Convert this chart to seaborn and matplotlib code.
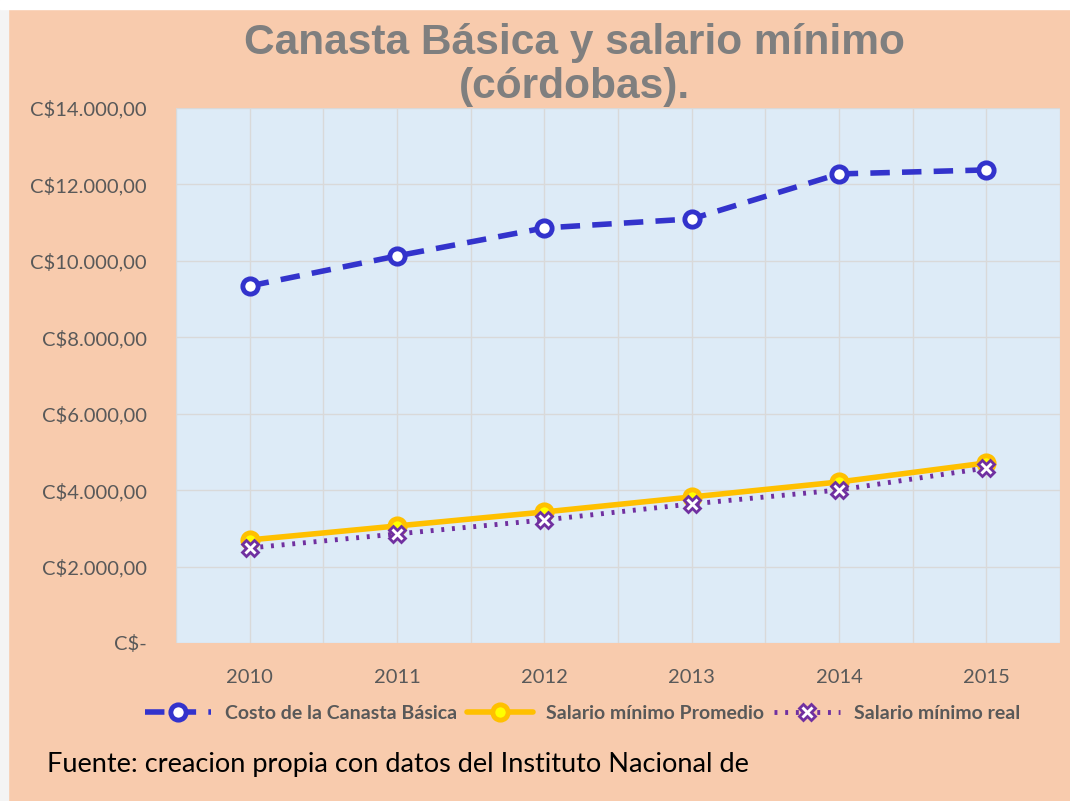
import pandas as pd
import matplotlib.pyplot as plt
import seaborn as sns
from matplotlib.patches import Rectangle
from matplotlib.ticker import FuncFormatter, MultipleLocator

# Canasta basica vs salario minimo
anios = [2010, 2011, 2012, 2013, 2014, 2015]
canasta = [9343, 10128, 10861, 11097, 12274, 12379]
salario_prom = [2696, 3062, 3428, 3821, 4213, 4711]
salario_real = [2486, 2853, 3219, 3638, 4004, 4580]

df = pd.DataFrame({'anio': anios, 'canasta': canasta,
                   'promedio': salario_prom, 'real': salario_real})

sns.set_style('white')
plt.rcParams['font.family'] = ['Lato', 'DejaVu Sans']

fig = plt.figure(figsize=(10.7, 8.01), dpi=100, facecolor='#F8CBAD')
# bordes claros del recorte original
fig.patches.append(Rectangle((0, 0), 0.0075, 1, transform=fig.transFigure,
                             color='#F4F4F4', zorder=0))
fig.patches.append(Rectangle((0, 0.989), 1, 0.011, transform=fig.transFigure,
                             color='#FFFFFF', zorder=0))
ax = fig.add_axes([0.1645, 0.1973, 0.8262, 0.6679])
ax.set_facecolor('#DDEBF7')


def pesos(v, pos):
    if v == 0:
        return 'C$-'
    s = f'{v:,.2f}'
    return 'C$' + s.replace(',', 'X').replace('.', ',').replace('X', '.')


sns.lineplot(data=df, x='anio', y='canasta', ax=ax, color='#3333CC', lw=4,
             linestyle=(0, (3.5, 2.2)), marker='o', markersize=11,
             markerfacecolor='white', markeredgecolor='#3333CC', markeredgewidth=3.5,
             label='Costo de la Canasta Básica', zorder=3)
sns.lineplot(data=df, x='anio', y='promedio', ax=ax, color='#FFC000', lw=4,
             marker='o', markersize=11, markerfacecolor='#FFFF00',
             markeredgecolor='#FFC000', markeredgewidth=3.5,
             label='Salario mínimo Promedio', zorder=3)
sns.lineplot(data=df, x='anio', y='real', ax=ax, color='#7030A0', lw=3.5,
             linestyle=(0, (0.6, 1.6)), marker='X', markersize=12,
             markerfacecolor='white', markeredgecolor='#7030A0', markeredgewidth=2,
             label='Salario mínimo real', zorder=3)

ax.set_xlim(2009.5, 2015.5)
ax.set_ylim(0, 14000)
ax.set_xticks(anios)
ax.xaxis.set_minor_locator(MultipleLocator(0.5))
ax.yaxis.set_major_locator(MultipleLocator(2000))
ax.yaxis.set_major_formatter(FuncFormatter(pesos))
ax.grid(True, which='both', color='#D9D9D9', lw=1)
ax.set_axisbelow(True)
ax.tick_params(colors='#595959', labelsize=14.5, length=0)
ax.tick_params(axis='y', pad=21)
ax.tick_params(axis='x', pad=19)
ax.set_xlabel('')
ax.set_ylabel('')
for s in ax.spines.values():
    s.set_visible(False)

leg = ax.legend(loc='center', bbox_to_anchor=(0.46, -0.131), ncol=3,
                frameon=False, handlelength=3.4, columnspacing=0.5, handletextpad=0.7,
                prop={'family': 'Lato', 'weight': 'bold', 'size': 14})
for t in leg.get_texts():
    t.set_color('#595959')

fig.text(0.537, 0.971, 'Canasta Básica y salario mínimo\n(córdobas).', ha='center', va='top',
         fontsize=30.6, fontweight='bold', color='#7F7F7F', linespacing=1.13,
         family=['Liberation Sans', 'DejaVu Sans'], zorder=5)
fig.text(0.044, 0.045, 'Fuente: creacion propia con datos del Instituto Nacional de',
         fontsize=19.5, color='black', va='center')

fig.savefig('out.png', dpi=100, facecolor=fig.get_facecolor())
